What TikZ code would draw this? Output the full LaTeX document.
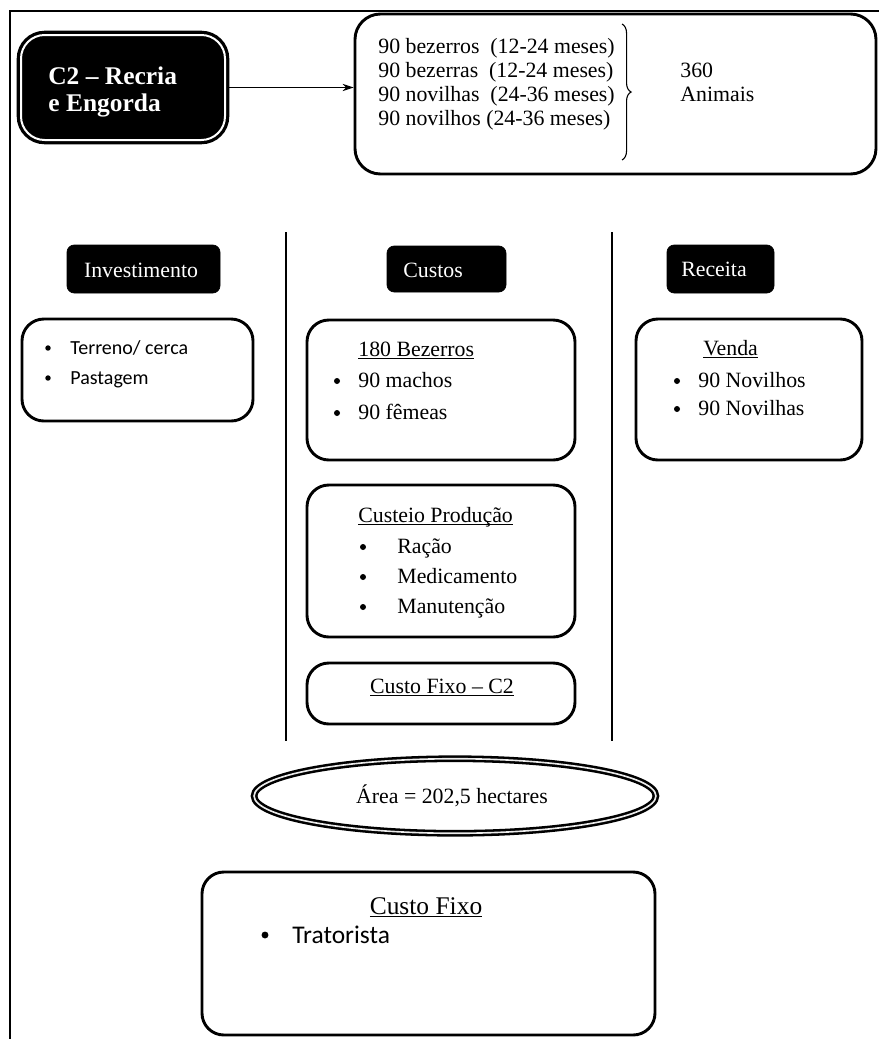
\documentclass[tikz,border=0pt]{standalone}
\usepackage{fontspec}
\setmainfont{Liberation Serif}
\newfontfamily\calibri{Carlito}
\newcommand\sublinha[1]{\underline{\smash{#1}}}
\usetikzlibrary{arrows.meta,fit,shapes.geometric,decorations.pathreplacing}

\tikzset{
  moldura/.style={line width=0.9pt},
  divisa/.style={line width=1.5pt},
  caixa/.style={draw, line width=1.6pt, rounded corners=12pt, inner sep=0pt},
  titulo/.style={draw=black, fill=black, line width=1.8pt, double=white,
    double distance=1.1pt, rounded corners=13pt, inner sep=0pt},
  rotulo/.style={draw=black, fill=black, rounded corners=4pt, inner sep=0pt},
  titulotxt/.style={text=white, font=\fontsize{14}{16}\selectfont\bfseries,
    inner sep=0pt, anchor=base west},
  rotulotxt/.style={text=white, font=\fontsize{12}{14}\selectfont, inner sep=0pt},
  txt/.style={font=\fontsize{12}{14}\selectfont, inner sep=0pt, anchor=base west},
  txtc/.style={font=\calibri\fontsize{11}{13}\selectfont, inner sep=0pt, anchor=base west},
  marca/.style={circle, fill=black, inner sep=0pt, minimum size=3.3pt},
  seta/.style={-{Stealth[length=6pt,width=4pt]}, line width=0.6pt},
  chave/.style={decorate, decoration={brace, amplitude=5pt}, line width=0.6pt},
}

\begin{document}
\begin{tikzpicture}[x=0.55pt, y=-0.55pt]
  \useasboundingbox (0,0) rectangle (879,1039);

  % moldura
  \draw[moldura] (10,1039) -- (10,11) -- (879,11);

  % titulo C2
  \node[titulo, fit={(21,35) (225,140)}] (c2) {};
  \node[titulotxt] (c2a) at (48,84) {C2 – Recria};
  \node[titulotxt] (c2b) at (48,111) {e Engorda};

  % animais
  \node[caixa, rounded corners=14pt, fit={(355,14) (876,174)}] (animais) {};
  \draw[seta] (c2.east) -- (c2.east -| animais.west);

  \node[txt] (lin1) at (378,53) {90 bezerros\ \ (12-24 meses)};
  \node[txt] (lin2) at (378,77) {90 bezerras\ \ (12-24 meses)};
  \node[txt] (lin3) at (378,101) {90 novilhas\ \ (24-36 meses)};
  \node[txt] (lin4) at (378,125) {90 novilhos (24-36 meses)};
  \draw[chave] (622,24) -- (622,160);
  \node[txt] (tot1) at (680,77) {360};
  \node[txt] (tot2) at (680,101) {Animais};

  % divisas
  \draw[divisa] (286,232) -- (286,741);
  \draw[divisa] (612,232) -- (612,741);

  % investimento
  \node[rotulo, fit={(67,245) (220,293)}] (tinv) {};
  \node[rotulotxt, anchor=base] (tinvtxt) at (141,277) {Investimento};
  \node[caixa, fit={(22,319) (253,421)}] (inv) {};
  \node[marca, minimum size=3pt] (bi1) at (48,348) {};
  \node[txtc] (inv1) at (70,354) {Terreno/ cerca};
  \node[marca, minimum size=3pt] (bi2) at (48,378) {};
  \node[txtc] (inv2) at (70,384) {Pastagem};

  % custos
  \node[rotulo, fit={(387,246) (506,292)}] (tcus) {};
  \node[rotulotxt, anchor=base west] (tcustxt) at (403,277) {Custos};

  \node[caixa, fit={(307,320) (575,460)}] (bez) {};
  \node[txt] (bez0) at (358,356) {\sublinha{180 Bezerros}};
  \node[marca] (bb1) at (337,381) {};
  \node[txt] (bez1) at (358,387) {90 machos};
  \node[marca] (bb2) at (337,413) {};
  \node[txt] (bez2) at (358,419) {90 fêmeas};

  \node[caixa, fit={(307,485) (575,637)}] (prod) {};
  \node[txt] (prod0) at (358,522) {\sublinha{Custeio Produção}};
  \node[marca] (bp1) at (363,547) {};
  \node[txt] (prod1) at (397,553) {Ração};
  \node[marca] (bp2) at (363,577) {};
  \node[txt] (prod2) at (397,583) {Medicamento};
  \node[marca] (bp3) at (363,607) {};
  \node[txt] (prod3) at (397,613) {Manutenção};

  \node[caixa, fit={(307,663) (575,724)}] (fixo) {};
  \node[txt, anchor=base] (fixo0) at (442,693) {\sublinha{Custo Fixo – C2}};

  % receita
  \node[rotulo, fit={(667,245) (774,293)}] (trec) {};
  \node[rotulotxt, anchor=base] (trectxt) at (714,276) {Receita};
  \node[caixa, fit={(636,319) (862,460)}] (venda) {};
  \node[txt] (venda0) at (703,355) {\sublinha{Venda}};
  \node[marca] (bv1) at (677,381) {};
  \node[txt] (venda1) at (698,387) {90 Novilhos};
  \node[marca] (bv2) at (677,409) {};
  \node[txt] (venda2) at (698,415) {90 Novilhas};

  % area
  \node[ellipse, draw=black, line width=1.4pt, double=white!85!gray,
    double distance=0.9pt, minimum width=221pt, minimum height=41pt,
    inner sep=0pt] (area) at (455,796) {};
  \node[txt, anchor=base] (areatxt) at (452,803) {Área = 202,5 hectares};

  % custo fixo
  \node[caixa, fit={(202,872) (655,1035)}] (cfixo) {};
  \node[txt, anchor=base, font=\fontsize{14}{16}\selectfont] (cfixo0) at (426,914) {\sublinha{Custo Fixo}};
  \node[marca, minimum size=3.8pt] (bc1) at (265,935) {};
  \node[txtc, font=\calibri\fontsize{14}{16}\selectfont] (cfixo1) at (292,943) {Tratorista};
\end{tikzpicture}
\end{document}
